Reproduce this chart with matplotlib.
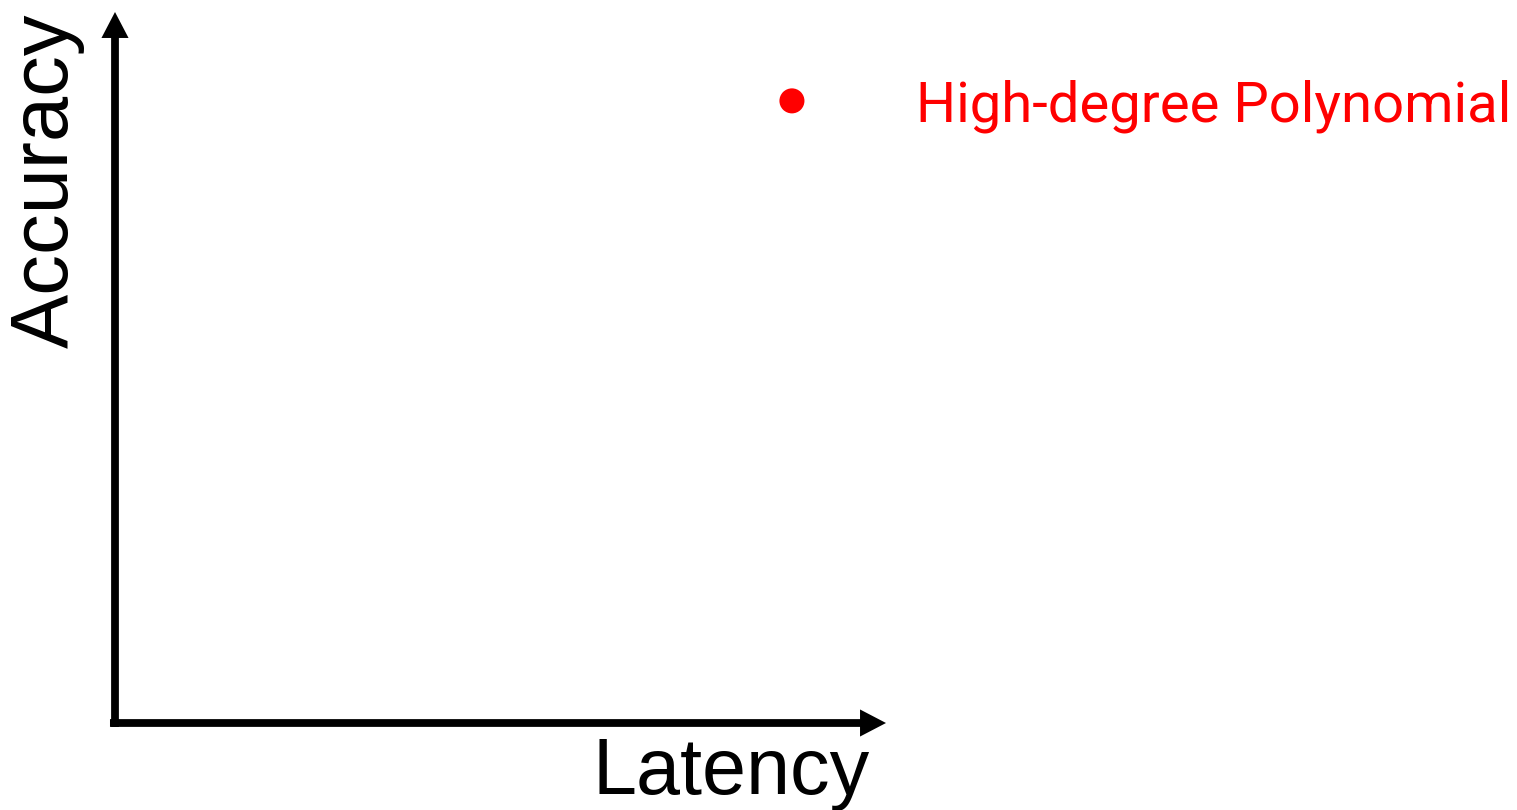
import matplotlib
matplotlib.use("Agg")
import matplotlib.pyplot as plt

# Data
latency = [0.878]
accuracy = [0.875]
point_labels = ["High-degree Polynomial"]
x_label = "Latency"
y_label = "Accuracy"

W, H = 1517, 810
fig = plt.figure(figsize=(W / 100, H / 100), dpi=100)
ax = fig.add_axes([115 / W, (H - 723) / H, (886 - 115) / W, (723 - 12) / H])
ax.set_xlim(0, 1)
ax.set_ylim(0, 1)
ax.axis("off")

arrow_kw = dict(width=5.6, headwidth=19.5, headlength=18.7, lw=0,
                facecolor="black", edgecolor="black", shrink=0)
ax.annotate("", xy=(1, 0), xytext=(-0.0065, 0), xycoords="axes fraction",
            arrowprops=arrow_kw, annotation_clip=False)
ax.annotate("", xy=(0, 1), xytext=(0, -0.0056), xycoords="axes fraction",
            arrowprops=arrow_kw, annotation_clip=False)

ax.scatter(latency, accuracy, s=325, color="#ff0000", zorder=3, clip_on=False,
           edgecolors="none")
for x, y, lab in zip(latency, accuracy, point_labels):
    ax.annotate(lab, xy=(x, y), xytext=(124, -21), textcoords="offset pixels",
                color="#ff0000", fontsize=40.5, family="Roboto",
                ha="left", va="baseline", annotation_clip=False)

ax.text(0.6187, -0.0999, x_label, transform=ax.transAxes, ha="left",
        va="baseline", fontsize=57, family="Liberation Sans")
ax.text(-0.061, 0.5274, y_label, transform=ax.transAxes, ha="left",
        va="baseline", rotation=90, rotation_mode="anchor", fontsize=58.5,
        family="Liberation Sans")

fig.savefig("out.png", dpi=100)
